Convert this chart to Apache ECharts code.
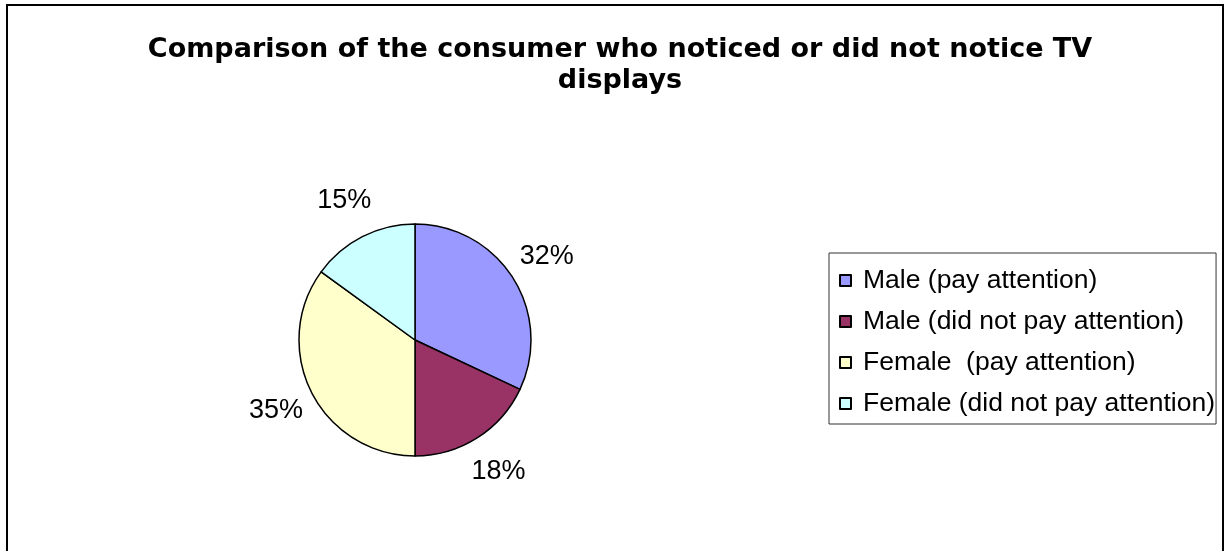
<!DOCTYPE html>
<html>
<head>
<meta charset="utf-8">
<style>
html,body{margin:0;padding:0;background:#fff;}
#chart{width:1225px;height:551px;}
</style>
<script src="https://cdn.jsdelivr.net/npm/echarts@6/dist/echarts.min.js"></script>
</head>
<body>
<div id="chart"></div>
<script>
const titleText = 'Comparison of the consumer who noticed or did not notice TV\ndisplays';
const categories = ['Male (pay attention)', 'Male (did not pay attention)', 'Female  (pay attention)', 'Female (did not pay attention)'];
const values = [32, 18, 35, 15];
const colors = ['#9999FF', '#993366', '#FFFFCC', '#CCFFFF'];

const pieData = categories.map((c, i) => ({ name: c, value: values[i], itemStyle: { color: colors[i] } }));
const labelData = categories.map((c, i) => ({ name: c, value: values[i] }));

const chart = echarts.init(document.getElementById('chart'), null, { renderer: 'canvas' });
chart.setOption({
  animation: false,
  backgroundColor: '#ffffff',
  title: {
    text: titleText,
    left: 620,
    textAlign: 'center',
    top: 34,
    padding: 0,
    textStyle: { fontFamily: 'DejaVu Sans', fontWeight: 'bold', fontSize: 27, lineHeight: 31, color: '#000' }
  },
  legend: {
    orient: 'vertical',
    left: 829,
    top: 253,
    padding: [14, 1, 7, 10],
    itemGap: 14,
    itemWidth: 11,
    itemHeight: 11,
    icon: 'rect',
    borderColor: '#333',
    borderWidth: 1,
    borderRadius: 0,
    data: categories,
    selectedMode: false,
    textStyle: { fontFamily: 'Liberation Sans, Arial, sans-serif', fontSize: 26.5, color: '#000', padding: [0, 0, 0, 7] }
  },
  graphic: [{
    type: 'rect', silent: true, z: -1,
    shape: { x: 7, y: 5, width: 1216, height: 600 },
    style: { fill: 'none', stroke: '#000', lineWidth: 2 }
  }],
  series: [{
    type: 'pie',
    center: [415, 340],
    radius: 116,
    startAngle: 90,
    clockwise: true,
    label: { show: false },
    labelLine: { show: false },
    emphasis: { disabled: true },
    itemStyle: { borderColor: '#000', borderWidth: 1.5 },
    data: pieData
  }, {
    type: 'pie',
    center: [415, 340],
    radius: [143, 163],
    startAngle: 90,
    clockwise: true,
    silent: true,
    emphasis: { disabled: true },
    itemStyle: { color: 'rgba(0,0,0,0)', borderWidth: 0 },
    label: {
      show: true, position: 'inside', formatter: '{d}%',
      fontFamily: 'Liberation Sans, Arial, sans-serif', fontSize: 27, color: '#000'
    },
    labelLine: { show: false },
    data: labelData
  }]
});
</script>
</body>
</html>
